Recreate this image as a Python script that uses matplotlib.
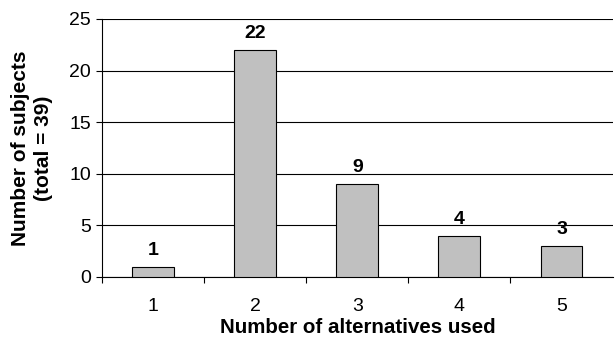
import numpy as np
import matplotlib.pyplot as plt

plt.rcParams['font.family'] = ['Liberation Sans', 'DejaVu Sans']

# Daten
alternatives = [1, 2, 3, 4, 5]
subjects = [1, 22, 9, 4, 3]

fig = plt.figure(figsize=(6.15, 3.39), dpi=100)
ax = fig.add_axes([0.166, 0.183, 0.830, 0.761])

ax.bar(alternatives, subjects, width=0.41, color='#c0c0c0', edgecolor='black', linewidth=0.8, zorder=3)
for x, v in zip(alternatives, subjects):
    ax.annotate(str(v), (x, v), xytext=(0, 8.6), textcoords='offset points',
                ha='center', va='baseline', fontsize=14, fontweight='bold')

ax.set_xlim(0.5, 5.5)
ax.set_ylim(0, 25)
ax.set_yticks(np.arange(0, 26, 5))
ax.yaxis.grid(True, color='black', linewidth=0.8, zorder=0)

# Striche zwischen den Kategorien, Beschriftung in der Mitte
ax.set_xticks([0.5, 1.5, 2.5, 3.5, 4.5])
ax.set_xticklabels([])
ax.set_xticks(alternatives, minor=True)
ax.set_xticklabels([str(a) for a in alternatives], minor=True)
ax.tick_params(axis='x', which='minor', length=0, pad=15, labelsize=14)
ax.tick_params(axis='x', which='major', length=4, width=0.8)
ax.tick_params(axis='y', length=4, width=0.8, labelsize=14, pad=4)

for s in ['top', 'right']:
    ax.spines[s].set_visible(False)
ax.spines['left'].set_linewidth(0.8)
ax.spines['bottom'].set_linewidth(0.8)

ax.set_xlabel('Number of alternatives used', fontsize=14.8, fontweight='bold', labelpad=2.5)
ax.set_ylabel('Number of subjects\n(total = 39)', fontsize=15, fontweight='bold',
              labelpad=12, linespacing=1.25)

plt.savefig('out.png', dpi=100)
